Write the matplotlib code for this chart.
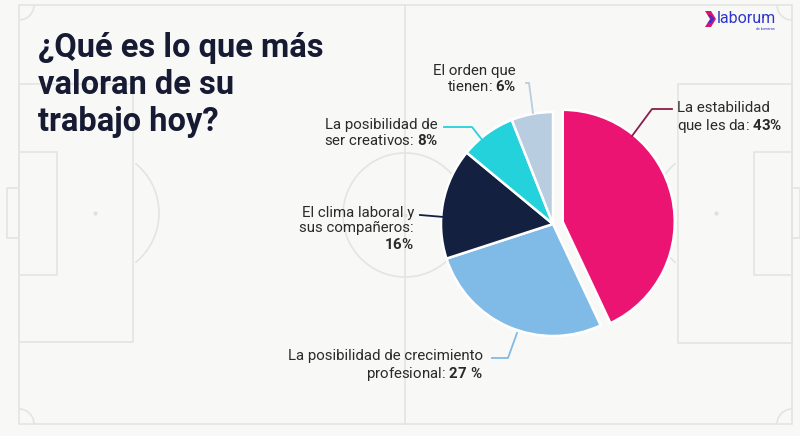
import numpy as np
import matplotlib.pyplot as plt
from matplotlib.patches import Rectangle, Arc, Polygon

plt.rcParams['font.family'] = ['Roboto', 'DejaVu Sans']
plt.rcParams['mathtext.fontset'] = 'custom'
plt.rcParams['mathtext.rm'] = 'Roboto'
plt.rcParams['mathtext.bf'] = 'Roboto:bold'

# datos
categorias = ['La estabilidad que les da', 'La posibilidad de crecimiento profesional',
              'El clima laboral y sus compañeros', 'La posibilidad de ser creativos',
              'El orden que tienen']
valores = [43, 27, 16, 8, 6]
colores = ['#EC1472', '#80BBE8', '#14203F', '#24D2DC', '#B9CDE1']
color_linea = ['#8A1D4C', '#80BBE8', '#14203F', '#24D2DC', '#B9CDE1']

W, H = 800, 436
fig = plt.figure(figsize=(8, 4.36), dpi=100)
fig.patch.set_facecolor('#F8F8F6')
ax = fig.add_axes([0, 0, 1, 1])
ax.set_facecolor('#F8F8F6')

def Y(y):  # pixeles desde arriba -> coordenadas
    return H - y

# cancha de fondo
lc = '#E4E4E2'
lw = 1.2
def rect(x0, y0, x1, y1):
    ax.add_patch(Rectangle((x0, Y(y1)), x1 - x0, y1 - y0, fill=False, ec=lc, lw=lw, zorder=0))

rect(19, 5, 792, 424)
rect(19, 84, 133, 342)
rect(19, 152, 57, 275)
rect(7, 188, 19, 238)
rect(678, 84, 792, 343)
rect(754, 152, 792, 275)
rect(792, 188, 800, 238)
ax.plot([405, 405], [Y(5), Y(424)], color=lc, lw=lw, zorder=0)
ax.add_patch(Arc((405, Y(215)), 124, 124, ec=lc, lw=lw, zorder=0))
ax.add_patch(Arc((95, Y(213)), 128, 128, theta1=-51, theta2=51, ec=lc, lw=lw, zorder=0))
ax.add_patch(Arc((716, Y(213)), 128, 128, theta1=129, theta2=231, ec=lc, lw=lw, zorder=0))
for cx, cy, t1, t2 in [(19, 5, 270, 360), (19, 424, 0, 90), (792, 5, 180, 270), (792, 424, 90, 180)]:
    ax.add_patch(Arc((cx, Y(cy)), 30, 30, theta1=t1, theta2=t2, ec=lc, lw=lw, zorder=0))
ax.scatter([95, 716, 405], [Y(213), Y(213), Y(215)], s=4, color='#E0E0DE', zorder=0)

# torta
ax.pie(valores, colors=colores, startangle=90, counterclock=False,
       center=(553, Y(224)), radius=112, explode=[10, 0, 0, 0, 0],
       wedgeprops=dict(edgecolor='white', linewidth=1.8))

ax.set_xlim(0, W)
ax.set_ylim(0, H)
ax.set_aspect('auto')
ax.axis('off')

# titulo
ax.text(38, Y(32), '¿Qué es lo que más\nvaloran de su\ntrabajo hoy?', ha='left', va='top',
        fontsize=23.5, fontweight='bold', color='#161B33', linespacing=1.2)

# etiquetas
txt = '#2A2A2A'
fs = 10.8
etiquetas = [
    (677, 101, 'left', 'La estabilidad\nque les da: $\\mathbf{43\\%}$'),
    (483, 349, 'right', 'La posibilidad de crecimiento\nprofesional: $\\mathbf{27\\ \\%}$'),
    (414, 206, 'right', 'El clima laboral y\nsus compañeros:\n$\\mathbf{16\\%}$'),
    (438, 118, 'right', 'La posibilidad de\nser creativos: $\\mathbf{8\\%}$'),
    (516, 64, 'right', 'El orden que\ntienen: $\\mathbf{6\\%}$'),
]
for x, y, ha, s in etiquetas:
    ax.text(x, Y(y), s, ha=ha, va='top', fontsize=fs, color=txt, linespacing=1.12)

lineas = [
    [(632, 136), (652, 109), (672, 109)],
    [(517, 333), (508, 358), (492, 358)],
    [(444, 217), (420, 215)],
    [(483, 141), (472, 127), (444, 127)],
    [(533, 113), (529, 83), (526, 83)],
]
for pts, c in zip(lineas, color_linea):
    xs = [p[0] for p in pts]
    ys = [Y(p[1]) for p in pts]
    ax.plot(xs, ys, color=c, lw=1.3, zorder=3)

# logo
ax.add_patch(Polygon([(705, Y(11)), (711, Y(11)), (716, Y(19)), (711, Y(27)), (705, Y(27)), (710, Y(19))],
                     closed=True, fc='#D0176F', ec='none'))
ax.add_patch(Polygon([(708, Y(15)), (711, Y(15)), (714, Y(19)), (711, Y(23)), (708, Y(23)), (711, Y(19))],
                     closed=True, fc='#3A2FD8', ec='none'))
ax.text(717, Y(19), 'laborum', ha='left', va='center', fontsize=11.5, color='#2E35C8')
ax.text(775, Y(29), 'de bumeran', ha='right', va='center', fontsize=2.5, color='#2E35C8')

fig.savefig('out.png', dpi=100, facecolor=fig.get_facecolor())
